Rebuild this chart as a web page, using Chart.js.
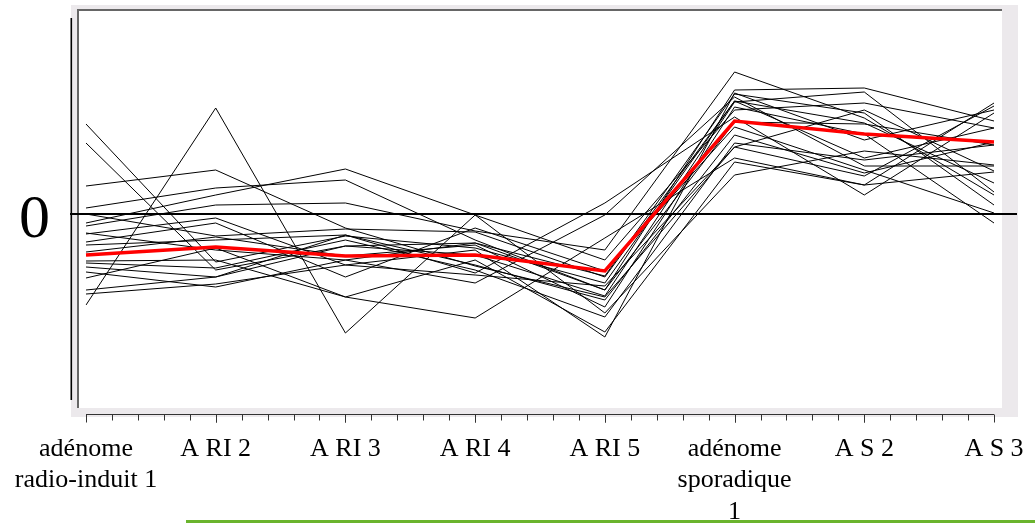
<!DOCTYPE html>
<html>
<head>
<meta charset="utf-8">
<script src="https://cdn.jsdelivr.net/npm/chart.js@4"></script>
<style>
  body { margin: 0; background: #fff; }
  canvas { display: block; }
</style>
</head>
<body>
<canvas id="profileChart" width="1035" height="523"></canvas>
<script>
const categories = [
    ['adénome', 'radio-induit 1'], 'A RI 2', 'A RI 3', 'A RI 4', 'A RI 5',
    ['adénome', 'sporadique', '1'], 'A S 2', 'A S 3'
];

// one row per gene profile (relative expression, 0 = reference line)
const profiles = [
    [1.80, -0.96, -0.44, -0.68, -1.38, 2.26, 1.82, 0.62],
    [1.42, -1.12, -0.64, -0.58, -1.24, 2.40, 2.02, 0.18],
    [-1.82, 2.12, -2.38, -0.02, -1.98, 0.78, 1.26, 0.98],
    [0.56, 0.88, -0.28, -1.04, -1.66, 1.34, 0.76, 2.16],
    [0.12, 0.52, 0.68, -0.52, -1.52, 2.48, 2.52, 1.86],
    [-0.18, 0.38, 0.90, -0.02, -0.92, 2.08, 2.22, 1.72],
    [-0.24, 0.18, 0.22, -0.34, -0.72, 2.84, 1.92, 0.38],
    [-0.40, -0.08, -1.02, -0.72, -2.46, 2.42, 1.48, 2.08],
    [-0.56, -0.18, -1.26, -0.28, -1.14, 1.74, 0.88, 0.02],
    [-0.76, -0.46, -0.84, -0.62, -1.86, 2.14, 1.60, -0.18],
    [-0.94, -0.92, -1.66, -2.08, -0.48, 1.12, 0.58, 2.22],
    [-0.98, -1.08, -0.52, -1.12, -2.06, 1.42, 1.08, 1.38],
    [-1.06, -1.26, -0.42, -1.18, 0.22, 1.94, 0.38, 2.02],
    [-1.16, -1.46, -0.92, -1.38, -0.02, 2.34, 0.96, 0.96],
    [-1.28, -0.68, -1.66, -0.92, -2.36, 1.04, 0.58, 0.84],
    [-1.52, -1.26, -0.64, -0.82, -1.64, 2.24, 2.44, 0.44],
    [-1.60, -1.40, -1.02, -1.22, -1.44, 1.34, 2.08, 0.86],
    [0.00, -0.44, -0.30, -0.36, -1.26, 2.26, 1.12, 1.72],
    [-0.38, -0.72, -0.92, -0.58, -1.52, 1.84, 1.80, 1.38],
    [-0.62, -0.52, -0.42, -1.02, -1.72, 1.58, 0.82, 1.44]
];

const meanProfile = [-0.82, -0.66, -0.84, -0.82, -1.14, 1.86, 1.60, 1.44];

const yMin = -3.82;
const yMax = 4.08;

// frame, ruler, zero line and the green rule under the labels
const framePlugin = {
    id: 'frame',
    beforeDraw(chart) {
        const ctx = chart.ctx;
        const a = chart.chartArea;
        ctx.save();
        ctx.fillStyle = '#ece9ec';
        ctx.fillRect(a.left - 15, a.top - 5, a.right - a.left + 39, a.bottom - a.top + 17);
        ctx.fillStyle = '#ffffff';
        ctx.fillRect(a.left - 8, a.top, a.right - a.left + 16, a.bottom - a.top + 3);
        ctx.fillStyle = '#666666';
        ctx.fillRect(a.left - 9, a.top - 1, a.right - a.left + 17, 2);
        ctx.fillRect(a.left - 9, a.top - 1, 2, a.bottom - a.top + 4);
        ctx.fillStyle = '#000000';
        ctx.fillRect(a.left - 15.5, a.top + 8, 1.6, a.bottom - a.top - 13);

        // ruler with five steps per category
        const x = chart.scales.x;
        const y0 = a.bottom + 9.5;
        ctx.strokeStyle = '#333333';
        ctx.lineWidth = 1;
        ctx.beginPath();
        ctx.moveTo(a.left, y0);
        ctx.lineTo(a.right, y0);
        for (let i = 0; i < categories.length - 1; i++) {
            const p0 = x.getPixelForValue(i);
            const p1 = x.getPixelForValue(i + 1);
            for (let k = 0; k <= 5; k++) {
                const px = Math.round(p0 + (p1 - p0) * k / 5) + 0.5;
                ctx.moveTo(px, y0);
                ctx.lineTo(px, y0 + (k === 0 || k === 5 ? 8 : 6));
            }
        }
        ctx.stroke();

        ctx.fillStyle = '#6ab42d';
        ctx.fillRect(186, 520, 1035 - 186, 3);
        ctx.restore();
    },
    beforeDatasetsDraw(chart) {
        const ctx = chart.ctx;
        const a = chart.chartArea;
        const yz = chart.scales.y.getPixelForValue(0);
        ctx.save();
        ctx.strokeStyle = '#000000';
        ctx.lineWidth = 2;
        ctx.beginPath();
        ctx.moveTo(a.left - 16, yz);
        ctx.lineTo(a.right + 23, yz);
        ctx.stroke();
        ctx.restore();
    }
};

function noScalePadding(scale) {
    scale.paddingTop = 0;
    scale.paddingBottom = 0;
    scale.paddingLeft = 0;
    scale.paddingRight = 0;
}

const datasets = [{
    label: 'moyenne',
    data: meanProfile,
    borderColor: '#ff0000',
    borderWidth: 3.5,
    pointRadius: 0,
    tension: 0
}];
profiles.forEach((row, i) => {
    datasets.push({
        label: 'profil ' + (i + 1),
        data: row,
        borderColor: '#000000',
        borderWidth: 1,
        pointRadius: 0,
        tension: 0
    });
});

new Chart(document.getElementById('profileChart'), {
    type: 'line',
    data: {
        labels: categories,
        datasets: datasets
    },
    options: {
        responsive: false,
        animation: false,
        layout: {
            autoPadding: false,
            padding: { top: 10, right: 41, bottom: 0, left: 0 }
        },
        scales: {
            x: {
                offset: false,
                grid: { display: false, drawTicks: false },
                border: { display: false },
                ticks: {
                    padding: 28,
                    color: '#000000',
                    maxRotation: 0,
                    autoSkip: false,
                    font: { family: 'Liberation Serif', size: 26, lineHeight: 1.22 }
                },
                afterFit: scale => {
                    scale.height = 118;
                    noScalePadding(scale);
                }
            },
            y: {
                min: yMin,
                max: yMax,
                grid: { display: false, drawTicks: false },
                border: { display: false },
                afterBuildTicks: scale => { scale.ticks = [{ value: 0 }]; },
                ticks: {
                    padding: 36,
                    labelOffset: 7,
                    color: '#000000',
                    callback: v => v === 0 ? '0' : '',
                    font: { family: 'Liberation Serif', size: 62 }
                },
                afterFit: scale => {
                    scale.width = 86;
                    noScalePadding(scale);
                }
            }
        },
        plugins: {
            legend: { display: false },
            tooltip: { enabled: false }
        }
    },
    plugins: [framePlugin]
});
</script>
</body>
</html>
